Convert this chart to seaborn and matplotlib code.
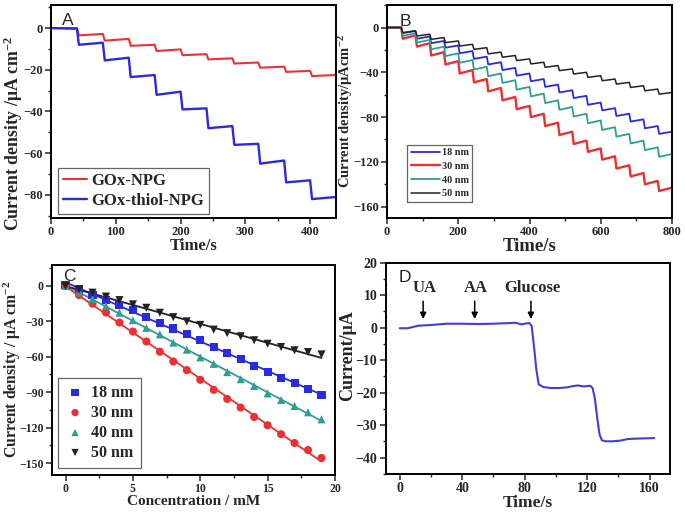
import matplotlib
matplotlib.use('Agg')
import matplotlib.pyplot as plt
import seaborn as sns
import numpy as np
from matplotlib.ticker import MultipleLocator

# ---- data ----
# panel A: additions every 40 s, level right after each step and right before the next
a_step_times = [0, 40, 80, 120, 160, 200, 240, 280, 320, 360, 400]
a_end_time = 440
a_npg_start = [0, -3.5, -6.0, -8.5, -11.0, -13.0, -15.0, -17.0, -19.0, -21.0, -23.0]
a_npg_end = [0, -2.8, -5.2, -8.0, -10.2, -12.5, -14.5, -16.5, -18.5, -20.5, -22.5]
a_thiol_start = [0, -8.0, -15.5, -23.5, -32.0, -39.0, -48.0, -56.0, -65.0, -74.0, -82.0]
a_thiol_end = [-0.3, -7.0, -14.2, -22.5, -30.5, -38.5, -47.0, -55.5, -63.5, -73.0, -81.0]

# panel B: additions every 40 s (1 mM each), steady level after each addition
b_step_times = [0, 40, 80, 120, 160, 200, 240, 280, 320, 360, 400,
                440, 480, 520, 560, 600, 640, 680, 720, 760]
b_end_time = 800
b_18 = [0, -3, -8, -12, -16, -21, -26, -31, -36, -41, -46, -51, -56, -61, -67, -72, -77, -82, -88, -93]
b_30 = [0, -7, -14, -22, -30, -38, -46, -54, -62, -70, -77, -85, -93, -101, -108, -115, -123, -130, -137, -143]
b_40 = [0, -5, -11, -17, -23, -29, -35, -41, -47, -53, -59, -65, -71, -77, -83, -89, -95, -101, -107, -113]
b_50 = [0, -3, -6, -9, -12, -15, -18, -22, -25, -28, -31, -34, -37, -40, -43, -46, -49, -52, -55, -58]
b_dip = [2.0, 3.0, 2.5, 1.5]  # overshoot right after each addition

# panel C: calibration
conc = list(range(20))
c_18 = [0.5, -3, -7.5, -12, -16, -20.7, -26, -31, -36, -41, -46, -51.4, -56.5, -62, -67.6, -73, -78, -82.4, -87.5, -92.3]
c_30 = [0, -7.7, -15, -22.5, -31, -38.6, -47, -55.7, -64, -71.3, -79.5, -88, -95.7, -103, -111, -118, -125.6, -133, -139, -145.7]
c_40 = [0, -5.5, -11, -17, -22.7, -29, -35.5, -41, -48, -54, -60.5, -66, -73, -79, -84.7, -91, -96.6, -101.7, -107, -113]
c_50 = [0, -3, -5.7, -9, -12, -15.6, -18.5, -22.7, -26.4, -30, -33, -37, -40, -42.6, -46, -49, -51.7, -54.5, -56, -58]

# panel D: interference test
d_time = [0, 5, 12, 20, 30, 40, 50, 60, 70, 74, 78, 81, 83, 84.5, 86, 87.5, 89, 92, 97, 102, 107,
          111, 114, 118, 122, 123.5, 125, 126.5, 128, 129.5, 132, 136, 141, 146, 150, 156, 163]
d_current = [-0.2, -0.2, 0.6, 0.8, 1.2, 1.2, 1.1, 1.2, 1.4, 1.5, 1.0, 1.3, 1.4, 0.5, -6, -13, -17.5, -18.3, -18.6,
             -18.6, -18.4, -18.0, -17.8, -18.1, -17.9, -18.6, -22, -28, -33, -34.7, -35.0, -35.0, -34.8, -34.3,
             -34.2, -34.1, -34.0]
d_events = ['UA', 'AA', 'Glucose']
d_event_times = [15, 48, 84]

RED = '#ec3032'
BLUE = '#2a2ae0'
TEAL = '#2f9e94'
BLACK = '#222222'
DBLUE = '#4040d8'

sns.set_theme(style='ticks')
plt.rcParams['font.family'] = ['Liberation Serif', 'DejaVu Serif']
plt.rcParams['font.weight'] = 'bold'
plt.rcParams['axes.labelweight'] = 'bold'
plt.rcParams['mathtext.fontset'] = 'custom'
plt.rcParams['mathtext.bf'] = 'Liberation Serif:bold'
plt.rcParams['mathtext.rm'] = 'Liberation Serif:bold'
plt.rcParams['mathtext.default'] = 'bf'


def step_path(times, t_end, starts, ends, ramp=3.0):
    xs, ys = [], []
    bounds = list(times[1:]) + [t_end]
    for i, t0 in enumerate(times):
        t_s = t0 + (ramp if i > 0 else 0)
        xs += [t_s, bounds[i]]
        ys += [starts[i], ends[i]]
    return xs, ys


def style_axes(ax, letter, lx, ly, tsize):
    for s in ax.spines.values():
        s.set_linewidth(1.4)
        s.set_color('black')
    ax.tick_params(which='major', direction='out', length=4, width=1.1, labelsize=tsize,
                   top=False, right=False, pad=2)
    ax.tick_params(which='minor', direction='out', length=2.2, width=1.0, top=False, right=False)
    for lab in ax.get_xticklabels() + ax.get_yticklabels():
        lab.set_fontweight('bold')
    ax.text(lx, ly, letter, transform=ax.transAxes, ha='left', va='top',
            fontsize=12.5, fontweight='normal', family='Liberation Sans')


fig = plt.figure(figsize=(6.85, 5.15), dpi=100)
axA = fig.add_axes([0.0745, 0.577, 0.416, 0.413])
axB = fig.add_axes([0.565, 0.577, 0.416, 0.413])
axC = fig.add_axes([0.076, 0.078, 0.413, 0.408])
axD = fig.add_axes([0.563, 0.080, 0.415, 0.410])

# ---- A ----
x, y = step_path(a_step_times, a_end_time, a_npg_start, a_npg_end)
sns.lineplot(x=x, y=y, color=RED, lw=1.5, ax=axA, label='GOx-NPG', estimator=None, sort=False)
x, y = step_path(a_step_times, a_end_time, a_thiol_start, a_thiol_end)
sns.lineplot(x=x, y=y, color=BLUE, lw=1.7, ax=axA, label='GOx-thiol-NPG', estimator=None, sort=False)
axA.set_xlim(0, 440)
axA.set_ylim(-91, 11)
axA.xaxis.set_major_locator(MultipleLocator(100))
axA.xaxis.set_minor_locator(MultipleLocator(50))
axA.yaxis.set_major_locator(MultipleLocator(20))
axA.yaxis.set_minor_locator(MultipleLocator(10))
axA.set_xlabel('Time/s', fontsize=12, labelpad=0)
axA.set_ylabel('Current density /μA cm$^{-2}$', fontsize=12.8)
axA.yaxis.set_label_coords(-0.092, 0.395)
legA = axA.legend(loc='lower left', bbox_to_anchor=(0.025, 0.02), borderaxespad=0, fancybox=False,
                  edgecolor='#666666', framealpha=1, prop={'family': 'Liberation Serif', 'weight': 'bold', 'size': 12},
                  handlelength=1.45, handletextpad=0.25, labelspacing=0.2, borderpad=0.3)
legA.get_frame().set_linewidth(0.9)
style_axes(axA, 'A', 0.04, 0.965, 9)

# ---- B ----
for lev, col, lab, dip, lw in zip([b_18, b_30, b_40, b_50], [BLUE, RED, TEAL, BLACK],
                                  ['18 nm', '30 nm', '40 nm', '50 nm'], b_dip, [1.3, 1.7, 1.3, 1.1]):
    starts = [lev[0]] + [v - dip for v in lev[1:]]
    x, y = step_path(b_step_times, b_end_time, starts, lev, ramp=4.0)
    sns.lineplot(x=x, y=y, color=col, lw=lw, ax=axB, label=lab, estimator=None, sort=False)
axB.set_xlim(0, 800)
axB.set_ylim(-170, 20)
axB.xaxis.set_major_locator(MultipleLocator(200))
axB.xaxis.set_minor_locator(MultipleLocator(100))
axB.yaxis.set_major_locator(MultipleLocator(40))
axB.yaxis.set_minor_locator(MultipleLocator(20))
axB.set_xlabel('Time/s', fontsize=13.5, labelpad=0)
axB.set_ylabel('Current density/μAcm$^{-2}$', fontsize=10.5)
axB.yaxis.set_label_coords(-0.112, 0.5)
legB = axB.legend(loc='lower left', bbox_to_anchor=(0.07, 0.075), borderaxespad=0, fancybox=False,
                  edgecolor='#666666', framealpha=1, prop={'family': 'Liberation Serif', 'weight': 'bold', 'size': 7.3},
                  handlelength=2.9, handletextpad=0.2, labelspacing=0.45, borderpad=0.35)
legB.get_frame().set_linewidth(0.9)
style_axes(axB, 'B', 0.045, 0.958, 9)

# ---- C ----
for vals, col, mk, lab in zip([c_18, c_30, c_40, c_50], [BLUE, RED, TEAL, BLACK],
                              ['s', 'o', '^', 'v'], ['18 nm', '30 nm', '40 nm', '50 nm']):
    sns.regplot(x=np.array(conc, float), y=np.array(vals), scatter=False, ci=None, ax=axC,
                line_kws={'color': col, 'lw': 1.3})
    sns.scatterplot(x=conc, y=vals, marker=mk, color=col, s=34, edgecolor='none', ax=axC, label=lab, zorder=3)
axC.set_xlim(-1, 20)
axC.set_ylim(-160, 18)
axC.xaxis.set_major_locator(MultipleLocator(5))
axC.xaxis.set_minor_locator(MultipleLocator(2.5))
axC.yaxis.set_major_locator(MultipleLocator(30))
axC.yaxis.set_minor_locator(MultipleLocator(15))
axC.set_xlabel('Concentration / mM', fontsize=11, labelpad=0)
axC.set_ylabel('Current density / μA cm$^{-2}$', fontsize=11.3)
axC.yaxis.set_label_coords(-0.102, 0.5)
legC = axC.legend(loc='lower left', bbox_to_anchor=(0.022, 0.033), borderaxespad=0, fancybox=False,
                  edgecolor='#666666', framealpha=1, prop={'family': 'Liberation Serif', 'weight': 'bold', 'size': 11.5},
                  handlelength=1.2, handletextpad=0.4, labelspacing=0.25, borderpad=0.45, markerscale=0.9)
legC.get_frame().set_linewidth(0.9)
style_axes(axC, 'C', 0.04, 0.98, 8.5)

# ---- D ----
sns.lineplot(x=d_time, y=d_current, color=DBLUE, lw=1.5, ax=axD, estimator=None, sort=False)
for name, t in zip(d_events, d_event_times):
    axD.annotate('', xy=(t, 1.8), xytext=(t, 9.0),
                 arrowprops=dict(arrowstyle='-|>', color='black', lw=1.1, mutation_scale=9))
    axD.text(t + 1, 9.6, name, ha='center', va='bottom', fontsize=12, fontweight='bold')
axD.set_xlim(-9, 173)
axD.set_ylim(-45, 20)
axD.xaxis.set_major_locator(MultipleLocator(40))
axD.xaxis.set_minor_locator(MultipleLocator(20))
axD.yaxis.set_major_locator(MultipleLocator(10))
axD.yaxis.set_minor_locator(MultipleLocator(5))
axD.set_xlabel('Time/s', fontsize=12.5, labelpad=0)
axD.set_ylabel('Current/μA', fontsize=13)
axD.yaxis.set_label_coords(-0.105, 0.56)
style_axes(axD, 'D', 0.045, 0.965, 10)

fig.savefig('out.png', dpi=100)
